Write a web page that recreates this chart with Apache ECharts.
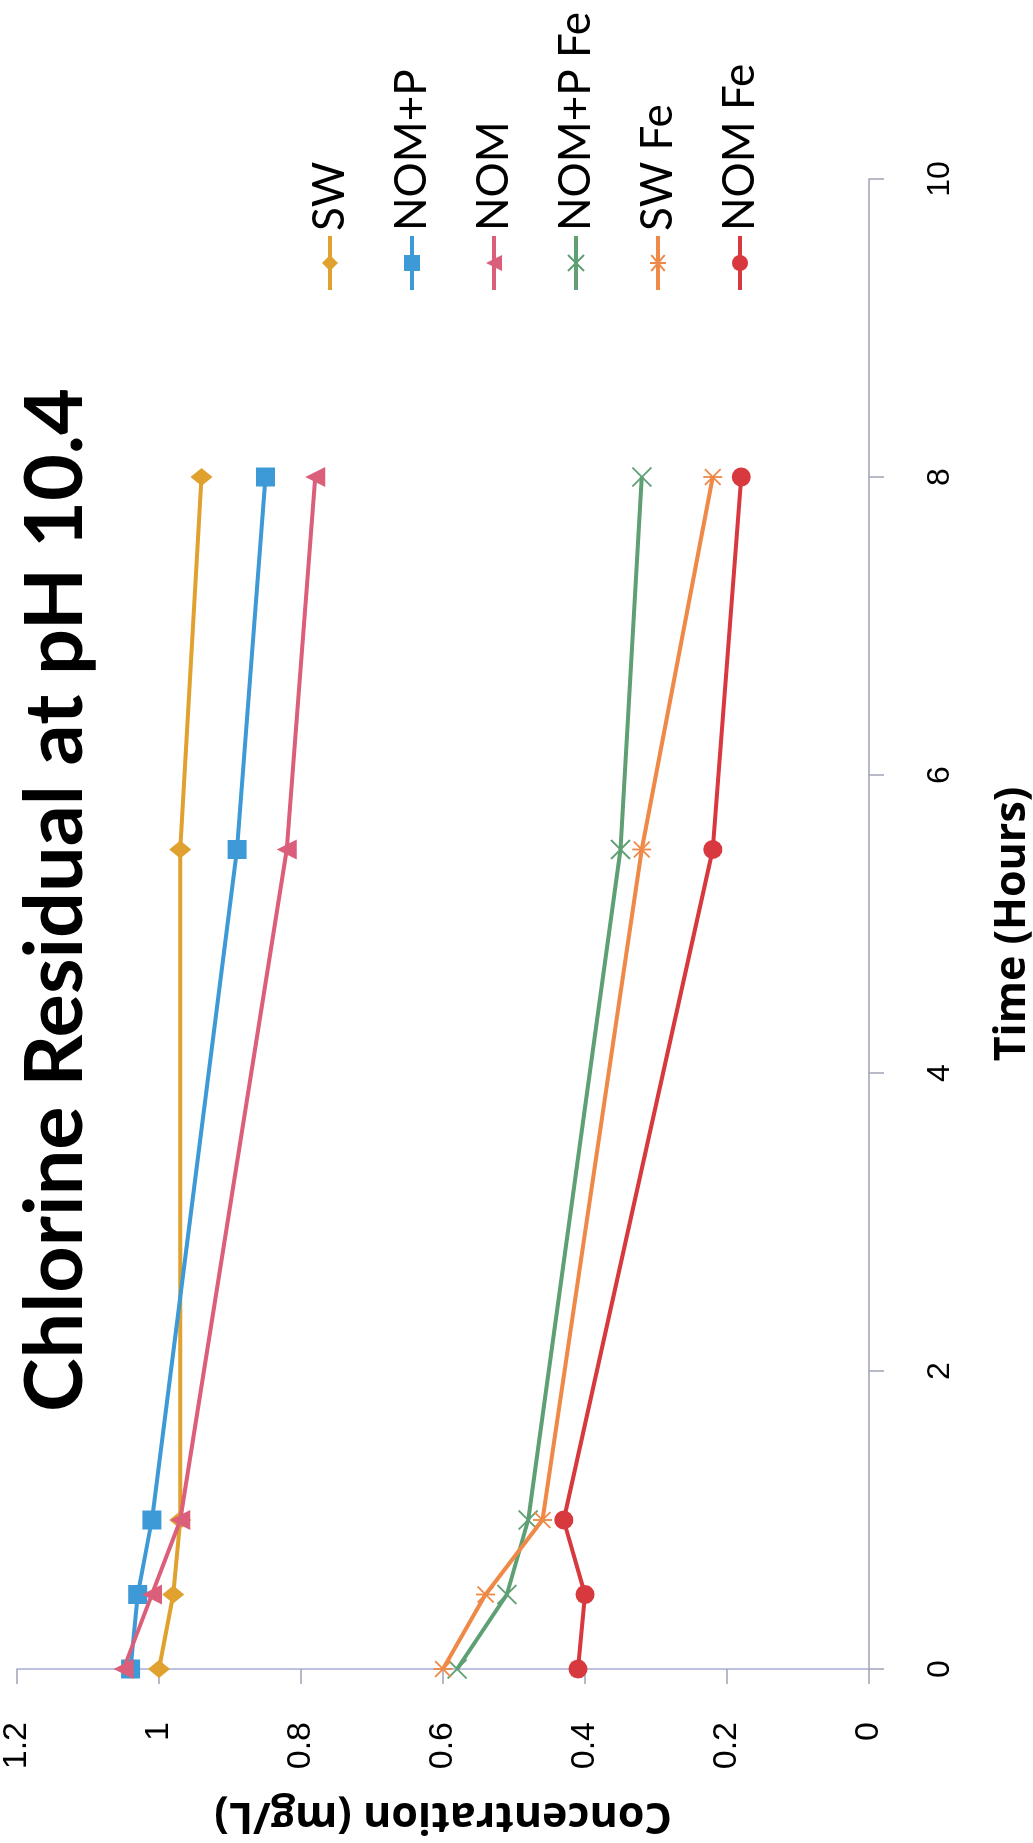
<!DOCTYPE html>
<html>
<head>
<meta charset="utf-8">
<script src="https://cdn.jsdelivr.net/npm/echarts@6/dist/echarts.min.js"></script>
<style>
html,body{margin:0;padding:0;background:#fff;}
#wrap{position:absolute;left:0;top:0;width:1033px;height:1843px;overflow:hidden;background:#fff;}
#chart{position:absolute;left:0;top:0;width:1843px;height:1033px;transform-origin:0 0;transform:translate(0px,1843px) rotate(-90deg);}
</style>
</head>
<body>
<div id="wrap"><div id="chart"></div></div>
<script>
// Data (time in hours, concentration in mg/L)
const times = [0, 0.5, 1, 5.5, 8];
const seriesNames = ['SW', 'NOM+P', 'NOM', 'NOM+P Fe', 'SW Fe', 'NOM Fe'];
const SW = [1.00, 0.98, 0.97, 0.97, 0.94];
const NOM_P = [1.04, 1.03, 1.01, 0.89, 0.85];
const NOM = [1.05, 1.01, 0.97, 0.82, 0.78];
const NOM_P_Fe = [0.58, 0.51, 0.48, 0.35, 0.32];
const SW_Fe = [0.60, 0.54, 0.46, 0.32, 0.22];
const NOM_Fe = [0.41, 0.40, 0.43, 0.22, 0.18];
const timeTicks = [0, 2, 4, 6, 8, 10];
const concTicks = [0, 0.2, 0.4, 0.6, 0.8, 1, 1.2];

const values = [SW, NOM_P, NOM, NOM_P_Fe, SW_Fe, NOM_Fe];
const colors = ['#E0A12E', '#3D9AD6', '#DB5F7B', '#5E9F73', '#EE8947', '#D7393F'];
const X_PATH = 'path://M0,0L10,10M10,0L0,10';
const AST_PATH = 'path://M0,0L10,10M10,0L0,10M5,-1L5,11';
const symbols = ['diamond', 'rect', 'triangle', X_PATH, AST_PATH, 'circle'];
const sizes = [[18, 22], 19, 20, 19, 19, 19];

const chart = echarts.init(document.getElementById('chart'), null, {renderer: 'canvas'});
const series = seriesNames.map((name, i) => {
  const stroke = i === 3 || i === 4;
  return {
    name: name,
    type: 'line',
    data: times.map((t, j) => [t, values[i][j]]),
    symbol: symbols[i],
    symbolSize: sizes[i],
    symbolKeepAspect: true,
    showAllSymbol: true,
    lineStyle: {color: colors[i], width: 4},
    itemStyle: stroke ? {color: colors[i], borderColor: colors[i], borderWidth: 1.8} : {color: colors[i]},
    emphasis: {disabled: true},
    z: 2 + i
  };
});

const option = {
  backgroundColor: '#ffffff',
  animation: false,
  title: {
    text: 'Chlorine Residual at pH 10.4',
    left: 938,
    textAlign: 'center',
    top: 10,
    textStyle: {fontFamily: 'Lato', fontWeight: 'bold', fontSize: 81, color: '#000'}
  },
  legend: {
    orient: 'vertical',
    left: 1546,
    top: 299,
    itemWidth: 54,
    itemHeight: 20,
    itemGap: 30,
    data: seriesNames,
    lineStyle: {width: 4},
    textStyle: {fontFamily: 'Lato', fontSize: 44, color: '#000', lineHeight: 52}
  },
  grid: {left: 174, right: 179, top: 17, bottom: 164, containLabel: false, outerBoundsMode: 'none'},
  xAxis: {
    type: 'value',
    min: timeTicks[0],
    max: timeTicks[timeTicks.length - 1],
    interval: 2,
    name: 'Time (Hours)',
    nameLocation: 'middle',
    nameGap: 122,
    nameTextStyle: {fontFamily: 'Open Sans', fontWeight: 'bold', fontSize: 43, color: '#000'},
    axisLine: {lineStyle: {color: '#a0a2b8', width: 1.5}},
    axisTick: {show: true, length: 15, lineStyle: {color: '#a0a2b8', width: 1.5}},
    axisLabel: {fontFamily: 'Liberation Sans', fontSize: 32, color: '#000', margin: 55},
    splitLine: {show: false}
  },
  yAxis: {
    type: 'value',
    min: concTicks[0],
    max: concTicks[concTicks.length - 1],
    interval: 0.2,
    name: 'Concentration (mg/L)',
    nameLocation: 'middle',
    nameRotate: 90,
    nameGap: 125,
    nameTextStyle: {fontFamily: 'Open Sans', fontWeight: 'bold', fontSize: 43, color: '#000'},
    axisLine: {show: true, lineStyle: {color: '#a9acd9', width: 1.5}},
    axisTick: {show: true, length: 15, lineStyle: {color: '#a0a2b8', width: 1.5}},
    axisLabel: {fontFamily: 'Liberation Sans', fontSize: 34, color: '#000', margin: 53},
    splitLine: {show: false}
  },
  series: series
};
chart.setOption(option);
</script>
</body>
</html>
